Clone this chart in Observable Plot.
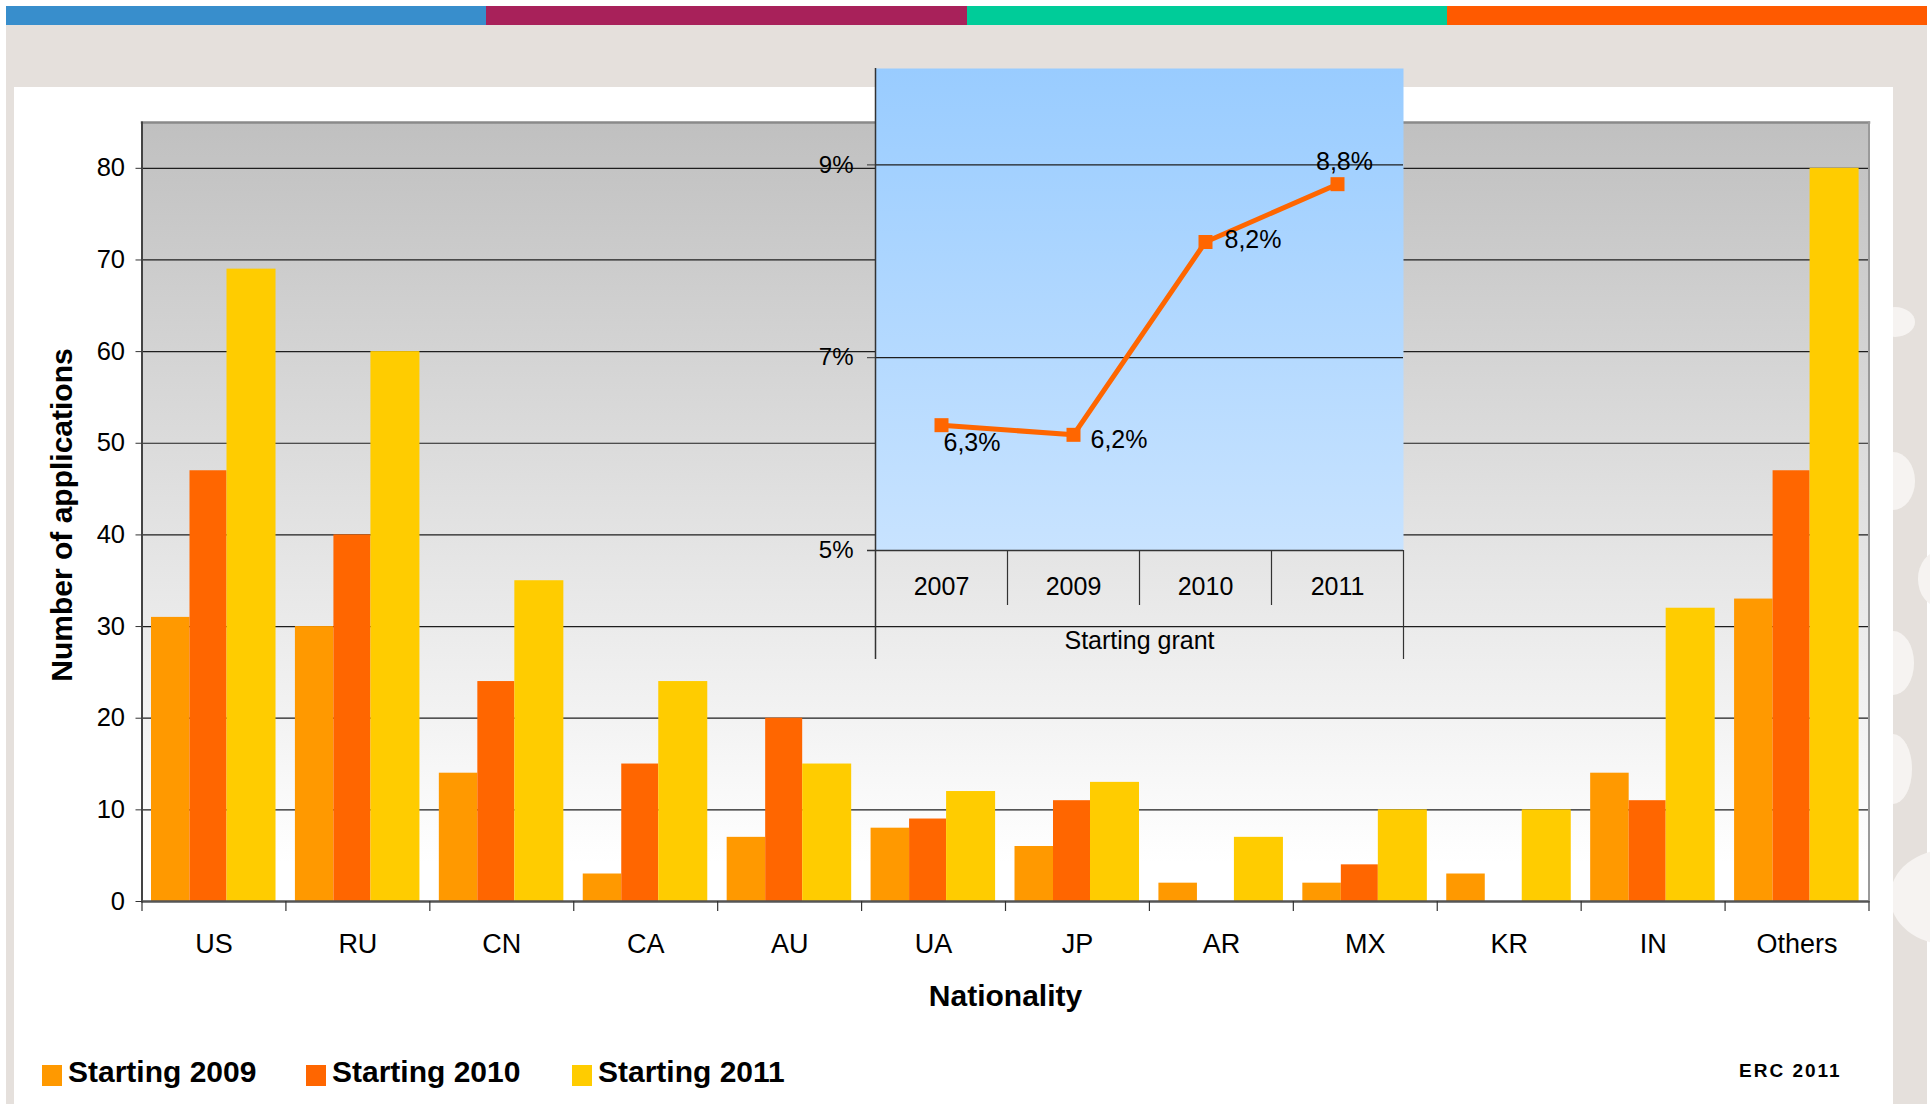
<!DOCTYPE html>
<html><head><meta charset="utf-8">
<script src="https://cdn.jsdelivr.net/npm/d3@7"></script>
<script src="https://cdn.jsdelivr.net/npm/@observablehq/plot@0.6"></script>
<style>
html,body{margin:0;padding:0;background:#fff;width:1930px;height:1104px;overflow:hidden;font-family:"Liberation Sans",Arial,sans-serif;}
#page{position:relative;width:1930px;height:1104px;}
.abs{position:absolute;}
.bubble{position:absolute;background:#F6F3F1;border-radius:50%;}
.leg{position:absolute;font-weight:bold;font-size:30px;line-height:34px;color:#000;white-space:nowrap;}
.sw{position:absolute;width:20px;height:21px;}
</style></head><body>
<div id="page">
  <div class="abs" style="left:6px;top:25px;width:1921px;height:1079px;background:#E5E0DC;"></div>
  <div class="abs" style="left:6px;top:6px;width:480px;height:19px;background:#388ECC;"></div>
  <div class="abs" style="left:486px;top:6px;width:481px;height:19px;background:#A8215A;"></div>
  <div class="abs" style="left:967px;top:6px;width:480px;height:19px;background:#00CC99;"></div>
  <div class="abs" style="left:1447px;top:6px;width:480px;height:19px;background:#FF5A00;"></div>
  <div class="bubble" style="left:1875px;top:307px;width:40px;height:30px;"></div>
  <div class="bubble" style="left:1871px;top:452px;width:44px;height:58px;"></div>
  <div class="bubble" style="left:1918px;top:551px;width:44px;height:56px;"></div>
  <div class="bubble" style="left:1872px;top:631px;width:42px;height:64px;"></div>
  <div class="bubble" style="left:1874px;top:734px;width:38px;height:70px;"></div>
  <div class="bubble" style="left:1890px;top:849px;width:120px;height:96px;"></div>
  <div class="abs" style="left:14px;top:87px;width:1879px;height:1017px;background:#fff;"></div>
  <div id="main" class="abs" style="left:0;top:0;"></div>
  <div id="inset" class="abs" style="left:820px;top:60px;"></div>
  <div id="legend"></div>
  <div class="abs" style="left:1739px;top:1061px;font-weight:bold;font-size:19px;line-height:20px;letter-spacing:2px;color:#000;">ERC 2011</div>
</div>
<script>
// ---------- data ----------
const categories = ["US","RU","CN","CA","AU","UA","JP","AR","MX","KR","IN","Others"];
const starting2009 = [31,30,14,3,7,8,6,2,2,3,14,33];
const starting2010 = [47,40,24,15,20,9,11,0,4,0,11,47];
const starting2011 = [69,60,35,24,15,12,13,7,10,10,32,80];
const seriesNames = ["Starting 2009","Starting 2010","Starting 2011"];
const yTicks = [0,10,20,30,40,50,60,70,80];

const insetYears = ["2007","2009","2010","2011"];
const insetShares = [6.3,6.2,8.2,8.8];
const insetTicks = [5,7,9];
const insetGroupLabel = "Starting grant";

// ---------- styles ----------
const FONT = '"Liberation Sans", Arial, sans-serif';
const colors = ["#FF9900","#FF6600","#FFCC00"];
const barInsets = [[9.5,95.9],[48,58.9],[85,9.9]];
const labelStyle = [
  {dx:2, dy:18, anchor:"start"},
  {dx:17, dy:5, anchor:"start"},
  {dx:19, dy:-2, anchor:"start"},
  {dx:7, dy:-22, anchor:"middle"}
];

const seriesValues = [starting2009, starting2010, starting2011];
const rows = [];
seriesNames.forEach((s, k) => categories.forEach((c, i) => rows.push({category:c, series:s, value:seriesValues[k][i]})));

// ---------- main chart ----------
const W = 1930, H = 1030;
const mL = 141.5, mR = 61.5, mT = 122, mB = 129;
const bw = (W - mL - mR) / categories.length;

const main = Plot.plot({
  width: W, height: H,
  marginLeft: mL, marginRight: mR, marginTop: mT, marginBottom: mB,
  style: {fontFamily: FONT, background: "transparent", color: "#000", overflow: "visible"},
  x: {type: "band", domain: categories, padding: 0, round: false},
  y: {domain: [0, 85]},
  marks: [
    Plot.frame({fill: "url(#mainBg)"}),
    Plot.gridY(yTicks.filter(d => d > 0), {stroke: "#1e1e1e", strokeOpacity: 1, strokeWidth: 1.2}),
    ...seriesNames.map((s, k) => Plot.barY(rows.filter(d => d.series === s), {
      x: "category", y: "value", fill: colors[k], insetLeft: barInsets[k][0], insetRight: barInsets[k][1]
    })),
    Plot.frame({anchor: "top", stroke: "#8a8a8a", strokeWidth: 2.5}),
    Plot.frame({anchor: "right", stroke: "#9a9a9a", strokeWidth: 2}),
    Plot.frame({anchor: "left", stroke: "#444", strokeWidth: 2}),
    Plot.ruleY([0], {stroke: "#555", strokeWidth: 2.5}),
    Plot.ruleX(categories, {x: d => d, dx: -bw / 2, y1: 0, y2: 0, insetBottom: -10, stroke: "#333", strokeWidth: 1.2}),
    Plot.ruleX([categories[categories.length - 1]], {x: d => d, dx: bw / 2, y1: 0, y2: 0, insetBottom: -10, stroke: "#333", strokeWidth: 1.2}),
    Plot.axisY({ticks: yTicks, tickSize: 6, tickPadding: 11, fontSize: 25.5, label: null, stroke: "#333"}),
    Plot.axisX({tickSize: 0, tickPadding: 32, fontSize: 27, label: null}),
    Plot.text(["Number of applications"], {frameAnchor: "left", textAnchor: "middle", lineAnchor: "middle", rotate: -90, dx: -80, dy: 3, fontWeight: "bold", fontSize: 30}),
    Plot.text(["Nationality"], {frameAnchor: "bottom", lineAnchor: "middle", dy: 95, fontWeight: "bold", fontSize: 30})
  ]
});
d3.select(main).insert("defs", ":first-child").html(
  '<linearGradient id="mainBg" x1="0" y1="0" x2="0" y2="1">' +
  '<stop offset="0" stop-color="#C0C0C0"/><stop offset="0.95" stop-color="#FFFFFF"/><stop offset="1" stop-color="#FFFFFF"/></linearGradient>');
document.getElementById("main").appendChild(main);

// ---------- inset chart ----------
const iW = 600, iH = 605;
const iL = 55, iR = 17, iT = 8, iB = 115;
const ibw = (iW - iL - iR) / insetYears.length;
const insetRows = insetYears.map((y, i) => ({year: y, share: insetShares[i], i}));
const fmt = v => v.toFixed(1).replace(".", ",") + "%";

const inset = Plot.plot({
  width: iW, height: iH,
  marginLeft: iL, marginRight: iR, marginTop: iT, marginBottom: iB,
  style: {fontFamily: FONT, background: "transparent", color: "#000", overflow: "visible"},
  x: {type: "band", domain: insetYears, padding: 0, round: false},
  y: {domain: [5, 10]},
  marks: [
    Plot.frame({fill: "url(#insetBg)"}),
    Plot.gridY([7, 9], {stroke: "#1e1e1e", strokeOpacity: 1, strokeWidth: 1.2}),
    Plot.ruleY([5], {stroke: "#333", strokeWidth: 1.5, insetLeft: -8}),
    Plot.ruleX([insetYears[0]], {x: d => d, dx: -ibw / 2, insetBottom: -109, stroke: "#333", strokeWidth: 1.5}),
    Plot.ruleX(insetYears.slice(1), {x: d => d, dx: -ibw / 2, y1: 5, y2: 5, insetBottom: -55, stroke: "#333", strokeWidth: 1.2}),
    Plot.ruleX([insetYears[insetYears.length - 1]], {x: d => d, dx: ibw / 2, y1: 5, y2: 5, insetBottom: -109, stroke: "#333", strokeWidth: 1.2}),
    Plot.axisY({ticks: insetTicks, tickSize: 8, tickPadding: 14, tickFormat: d => d + "%", fontSize: 24, label: null, stroke: "#333"}),
    Plot.axisX({tickSize: 0, tickPadding: 27, fontSize: 25, label: null}),
    Plot.line(insetRows, {x: "year", y: "share", stroke: "#FF6600", strokeWidth: 5}),
    Plot.dot(insetRows, {x: "year", y: "share", symbol: "square", r: 7.9, fill: "#FF6600"}),
    ...insetRows.map((d, i) => Plot.text([d], {x: "year", y: "share", text: r => fmt(r.share),
      dx: labelStyle[i].dx, dy: labelStyle[i].dy, textAnchor: labelStyle[i].anchor, fontSize: 25})),
    Plot.text([insetGroupLabel], {frameAnchor: "bottom", lineAnchor: "middle", dy: 90, fontSize: 25})
  ]
});
d3.select(inset).insert("defs", ":first-child").html(
  '<linearGradient id="insetBg" x1="0" y1="0" x2="0" y2="1">' +
  '<stop offset="0" stop-color="#99CCFF"/><stop offset="1" stop-color="#C8E3FF"/></linearGradient>');
document.getElementById("inset").appendChild(inset);

// ---------- legend ----------
const legPos = [[42, 68], [306, 332], [572, 598]];
const leg = d3.select("#legend");
seriesNames.forEach((s, k) => {
  leg.append("div").attr("class", "sw").style("left", legPos[k][0] + "px").style("top", "1065px").style("background", colors[k]);
  leg.append("div").attr("class", "leg").style("left", legPos[k][1] + "px").style("top", "1055px").text(s);
});
</script>
</body></html>
